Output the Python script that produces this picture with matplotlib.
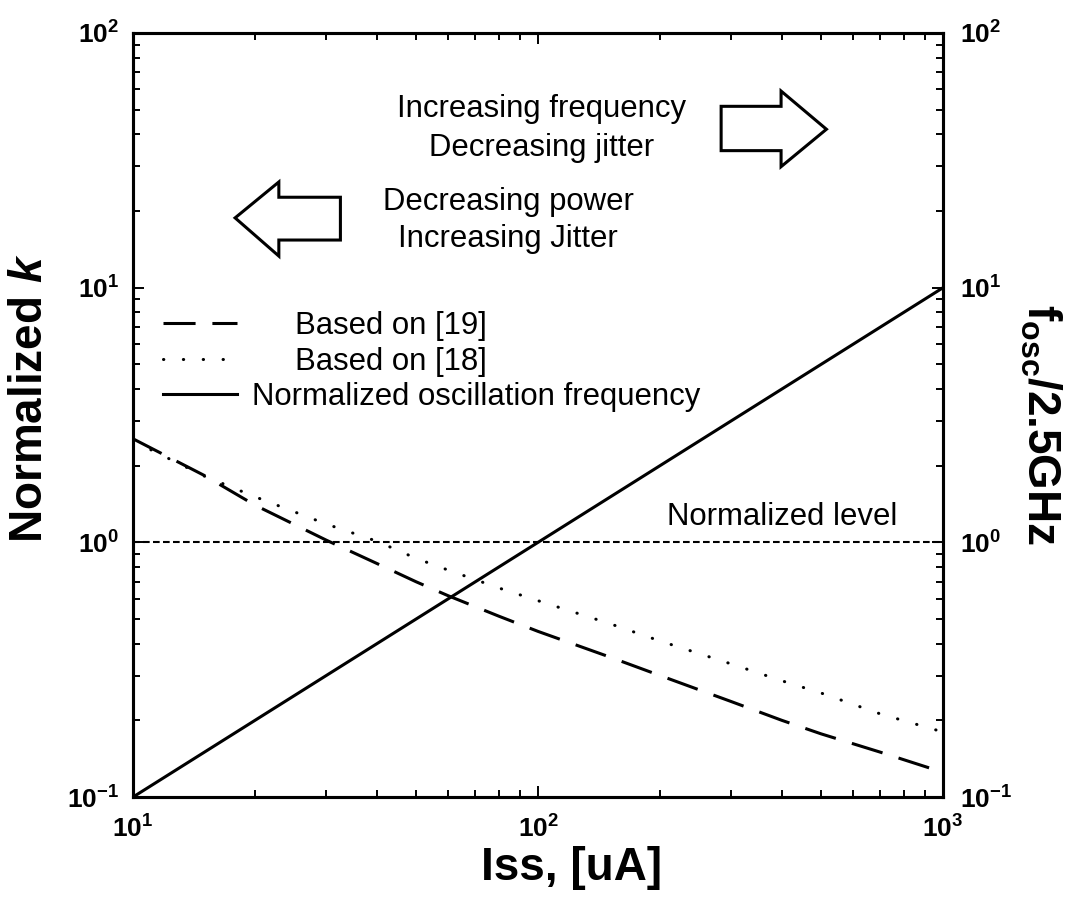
import numpy as np
import matplotlib
matplotlib.use("Agg")
import matplotlib.pyplot as plt
from matplotlib.patches import Polygon
from matplotlib.ticker import FuncFormatter, LogLocator, NullFormatter

plt.rcParams['font.family'] = ['Liberation Sans', 'DejaVu Sans']
plt.rcParams['mathtext.fontset'] = 'custom'
plt.rcParams['mathtext.rm'] = 'Liberation Sans:bold'
plt.rcParams['mathtext.bf'] = 'Liberation Sans:bold'
plt.rcParams['mathtext.it'] = 'Liberation Sans:italic'
plt.rcParams['mathtext.bfit'] = 'Liberation Sans:bold:italic'

# Iss in uA
iss = [10, 15, 20, 30, 40, 50, 60, 80, 100, 150, 200, 300, 400, 500, 700, 1000]

# normalized k, based on [19] (dashed)
k_ref19 = [2.55, 1.83, 1.40, 1.02, 0.826, 0.70, 0.617, 0.513, 0.447,
           0.355, 0.30, 0.237, 0.20, 0.177, 0.15, 0.125]

# normalized k, based on [18] (dotted)
k_ref18 = [2.5, 1.82, 1.51, 1.18, 1.01, 0.865, 0.778, 0.662, 0.59,
           0.48, 0.41, 0.333, 0.286, 0.256, 0.212, 0.18]

# fosc / 2.5GHz (solid)
f_norm = [0.1, 0.15, 0.2, 0.3, 0.4, 0.5, 0.6, 0.8, 1.0,
          1.5, 2.0, 3.0, 4.0, 5.0, 7.0, 10.0]

norm_level = 1.0

labels = ["     Based on [19]", "     Based on [18]",
          "Normalized oscillation frequency"]

fig = plt.figure(figsize=(10.86, 9.01), dpi=100)
ax = fig.add_axes([0.1225, 0.1154, 0.7459, 0.848])

lw = 2.2
l19, = ax.plot(iss, k_ref19, color='black', lw=lw, linestyle=(0, (10.5, 5.5)))
l18, = ax.plot(iss, k_ref18, color='black', lw=lw, linestyle=(0, (0.1, 6.4)),
               dash_capstyle='round')
lf, = ax.plot(iss, f_norm, color='black', lw=lw)
ax.axhline(norm_level, color='black', lw=1.5, linestyle=(0, (3.2, 1.6)))

ax.set_xscale('log')
ax.set_yscale('log')
ax.set_xlim(10, 1000)
ax.set_ylim(0.1, 100)

fmt = FuncFormatter(lambda v, p: r'$\mathbf{10^{%d}}$' % round(np.log10(v)))

ax2 = ax.twinx()
ax2.set_yscale('log')
ax2.set_ylim(0.1, 100)

for a in (ax, ax2):
    a.yaxis.set_major_locator(LogLocator(base=10))
    a.yaxis.set_minor_locator(LogLocator(base=10, subs=np.arange(2, 10)))
    a.yaxis.set_major_formatter(fmt)
    a.yaxis.set_minor_formatter(NullFormatter())
    for s in a.spines.values():
        s.set_linewidth(2.2)
ax.xaxis.set_major_formatter(fmt)
ax.xaxis.set_minor_formatter(NullFormatter())

ax.tick_params(which='both', direction='in', top=True, width=1.4, labelsize=19)
ax.tick_params(which='major', length=8)
ax.tick_params(which='minor', length=5)
ax.tick_params(axis='y', pad=10)
ax.tick_params(axis='x', pad=13)
ax2.tick_params(which='both', direction='in', width=1.4, labelsize=19, pad=12)
ax2.tick_params(which='major', length=8)
ax2.tick_params(which='minor', length=5)

ax.set_xlabel('Iss, [uA]', fontsize=33, fontweight='bold')
ax.xaxis.set_label_coords(0.541, -0.064)
ax.set_ylabel(r'Normalized $\mathbfit{k}$', fontsize=33, fontweight='bold',
              va='center', ha='center')
ax.yaxis.set_label_coords(-0.127, 0.522)
ax2.set_ylabel(r'f$_{\mathbf{osc}}$/2.5GHz', fontsize=33, fontweight='bold',
               rotation=-90, va='center', ha='center')
ax2.yaxis.set_label_coords(1.12, 0.487)

# annotations
ax.text(0.504, 0.875, "Increasing frequency\nDecreasing jitter", transform=ax.transAxes,
        ha='center', va='center', fontsize=22.4, linespacing=1.35)
ax.text(0.463, 0.754, "Decreasing power\nIncreasing Jitter", transform=ax.transAxes,
        ha='center', va='center', fontsize=22.4, linespacing=1.3)
ax.text(0.944, 0.356, "Normalized level", transform=ax.transAxes,
        ha='right', va='baseline', fontsize=22.4)

right_arrow = [(0.726, 0.904), (0.800, 0.904), (0.800, 0.924), (0.856, 0.874),
               (0.800, 0.825), (0.800, 0.846), (0.726, 0.846)]
left_arrow = [(0.256, 0.785), (0.180, 0.785), (0.180, 0.805), (0.126, 0.758),
              (0.180, 0.708), (0.180, 0.729), (0.256, 0.729)]
for pts in (right_arrow, left_arrow):
    ax.add_patch(Polygon(pts, closed=True, transform=ax.transAxes, facecolor='white',
                         edgecolor='black', lw=2.2, joinstyle='miter'))

ax.legend([l19, l18, lf], labels, loc='upper left', bbox_to_anchor=(0.037, 0.636),
          frameon=False, fontsize=22.4, handlelength=2.37, handletextpad=0.48,
          labelspacing=0.18, borderpad=0, borderaxespad=0)

fig.savefig('out.png', dpi=100)
